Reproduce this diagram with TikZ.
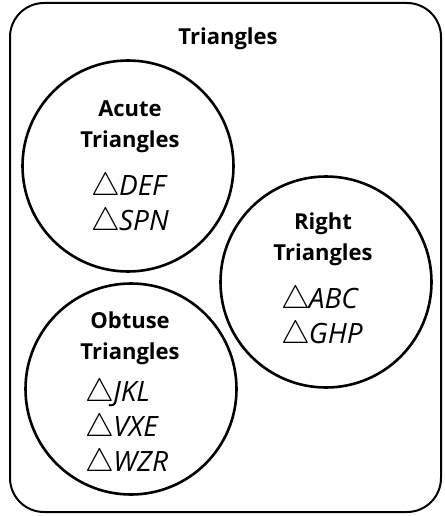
\documentclass[tikz,border=0pt]{standalone}
\usepackage{graphicx}
\usepackage{fontspec}
\setmainfont{Open Sans}
\newcommand{\tri}[1]{\scalebox{1.3}{$\triangle$}\kern-1pt#1}
\begin{document}
\begin{tikzpicture}[x=1pt,y=-1pt,
  setcircle/.style={draw,circle,line width=2.6pt,minimum size=211pt,inner sep=0pt},
  setname/.style={font=\bfseries\fontsize{22}{31}\selectfont,align=center},
  members/.style={font=\itshape\fontsize{28}{35}\selectfont,align=left}]
\useasboundingbox (0,0) rectangle (444,516);

% Universal set
\draw[line width=2pt,rounded corners=34pt] (10,3) rectangle (441,512);
\node[setname] (all) at (228,39) {Triangles};

% Acute triangles
\node[setcircle] (acute) at (128,166) {};
\node[setname] (acutename) at (130,127) {Acute\\Triangles};
\node[members] (acutelist) at (130,205) {\tri{DEF}\\\tri{SPN}};

% Right triangles
\node[setcircle] (right) at (326,282) {};
\node[setname] (rightname) at (323,239) {Right\\Triangles};
\node[members] (rightlist) at (322,318) {\tri{ABC}\\\tri{GHP}};

% Obtuse triangles
\node[setcircle] (obtuse) at (131,389) {};
\node[setname] (obtusename) at (130,338) {Obtuse\\Triangles};
\node[members,anchor=west] (obtuselist) at (82,428) {\tri{JKL}\\\tri{VXE}\\\tri{WZR}};
\end{tikzpicture}
\end{document}
